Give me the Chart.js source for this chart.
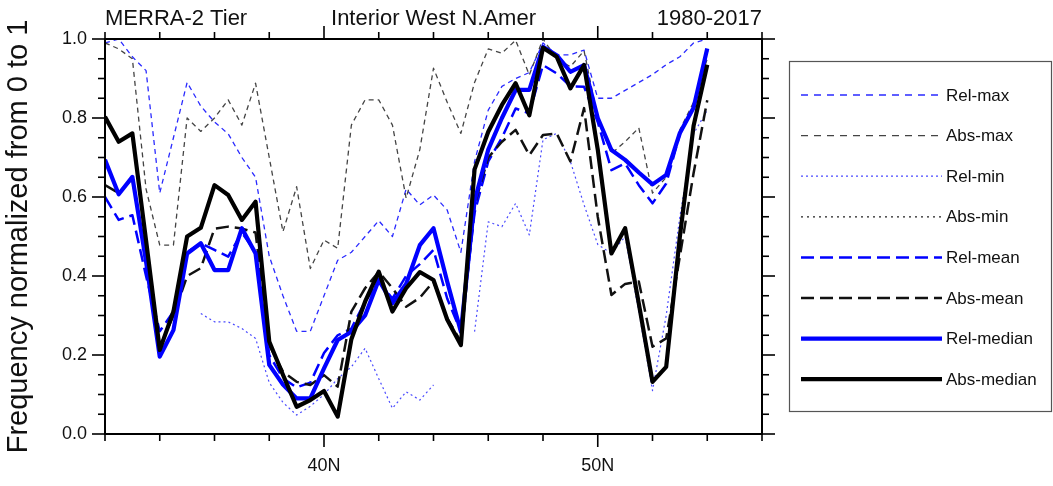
<!DOCTYPE html>
<html>
<head>
<meta charset="utf-8">
<script src="https://cdn.jsdelivr.net/npm/chart.js@4.4.1/dist/chart.umd.min.js"></script>
<style>
html,body{margin:0;padding:0;background:#fff;}
#wrap{width:1053px;height:486px;position:relative;}
</style>
</head>
<body>
<div id="wrap"><canvas id="c"></canvas></div>
<script>
// ---------- DATA ----------
const lats = [32,32.5,33,33.5,34,34.5,35,35.5,36,36.5,37,37.5,38,38.5,39,39.5,40,40.5,41,41.5,42,42.5,43,43.5,44,44.5,45,45.5,46,46.5,47,47.5,48,48.5,49,49.5,50,50.5,51,51.5,52,52.5,53,53.5,54];

const relMax = [0.99,1.0,0.955,0.92,0.61,0.75,0.89,0.83,0.79,0.76,0.70,0.65,0.45,0.35,0.26,0.26,0.35,0.44,0.46,0.50,0.54,0.50,0.62,0.58,0.605,0.567,0.46,0.69,0.82,0.88,0.90,0.915,0.99,0.96,0.96,0.972,0.85,0.85,0.87,0.89,0.91,0.935,0.955,0.99,1.0];
const absMax = [0.99,0.975,0.95,0.62,0.478,0.478,0.80,0.766,0.80,0.846,0.782,0.888,0.70,0.512,0.626,0.419,0.491,0.470,0.782,0.846,0.846,0.782,0.597,0.72,0.926,0.84,0.761,0.89,0.975,0.964,0.997,0.909,1.0,0.95,0.93,0.97,0.80,0.71,0.74,0.775,0.61,0.65,0.77,0.84,0.95];
const relMin = [null,null,null,null,null,null,null,0.305,0.284,0.284,0.267,0.242,0.13,0.08,0.048,0.07,0.10,0.14,0.17,0.217,0.14,0.065,0.107,0.086,0.124,null,null,0.259,0.537,0.525,0.584,0.504,0.745,0.761,0.69,0.58,0.48,0.457,0.50,0.31,0.11,0.30,0.55,0.76,0.82];
const absMin = [null,null,null,null,null,null,null,null,null,null,null,null,null,null,null,null,null,null,null,null,null,null,null,null,null,null,null,null,null,null,null,null,null,null,null,null,null,null,null,null,null,null,null,null,null];
const relMean = [0.60,0.542,0.554,0.40,0.26,0.31,0.46,0.483,0.466,0.449,0.51,0.46,0.20,0.141,0.118,0.13,0.205,0.25,0.267,0.335,0.386,0.343,0.40,0.43,0.466,0.343,0.259,0.56,0.69,0.75,0.824,0.812,0.934,0.913,0.88,0.879,0.79,0.668,0.685,0.63,0.584,0.634,0.76,0.825,0.97];
const absMean = [0.63,0.61,0.647,0.44,0.22,0.30,0.40,0.42,0.52,0.525,0.52,0.51,0.225,0.158,0.132,0.124,0.149,0.12,0.31,0.369,0.411,0.369,0.322,0.345,0.386,0.293,0.234,0.58,0.70,0.74,0.77,0.706,0.757,0.761,0.69,0.825,0.55,0.352,0.38,0.386,0.221,0.242,0.45,0.66,0.845];
const relMedian = [0.694,0.607,0.651,0.436,0.196,0.263,0.457,0.483,0.415,0.415,0.521,0.457,0.175,0.125,0.09,0.09,0.166,0.238,0.259,0.30,0.39,0.331,0.38,0.478,0.521,0.386,0.259,0.59,0.72,0.80,0.871,0.871,0.98,0.959,0.917,0.934,0.80,0.719,0.694,0.662,0.632,0.656,0.762,0.826,0.976];
const absMedian = [0.803,0.74,0.761,0.49,0.213,0.31,0.50,0.522,0.63,0.605,0.542,0.588,0.234,0.15,0.069,0.086,0.109,0.044,0.24,0.335,0.411,0.31,0.369,0.41,0.39,0.29,0.225,0.67,0.765,0.833,0.888,0.807,0.978,0.955,0.875,0.934,0.72,0.457,0.521,0.33,0.132,0.17,0.50,0.78,0.935];

const seriesNames = ['Rel-max','Abs-max','Rel-min','Abs-min','Rel-mean','Abs-mean','Rel-median','Abs-median'];
const seriesValues = [relMax,absMax,relMin,absMin,relMean,absMean,relMedian,absMedian];

const xTickValues = [32,34,36,38,40,42,44,46,48,50,52,54,56];
const xMajorTicks = [40,50];
const xTickLabels = {40:'40N',50:'50N'};
const yTickValues = [0,0.05,0.1,0.15,0.2,0.25,0.3,0.35,0.4,0.45,0.5,0.55,0.6,0.65,0.7,0.75,0.8,0.85,0.9,0.95,1.0];
const yMajorTicks = [0,0.2,0.4,0.6,0.8,1.0];
const yTickLabels = ['0.0','0.2','0.4','0.6','0.8','1.0'];

const titleLeft = 'MERRA-2 Tier';
const titleCenter = 'Interior West N.Amer';
const titleRight = '1980-2017';
const yTitle = 'Frequency normalized from 0 to 1';

// ---------- STYLES ----------
const styles = [
  {color:'#2a2aff', width:1.3, dash:[5,4], legendDash:[7,6]},
  {color:'#444444', width:1.3, dash:[5,4], legendDash:[7,6]},
  {color:'#4a4aff', width:1.2, dash:[2,3], legendDash:[2,3]},
  {color:'#222222', width:1.2, dash:[2,3], legendDash:[2,4]},
  {color:'#0000ff', width:2.5, dash:[13,6], legendDash:[13,6]},
  {color:'#111111', width:2.5, dash:[13,6], legendDash:[13,6]},
  {color:'#0000ff', width:4.2, dash:[], legendDash:[]},
  {color:'#000000', width:4.2, dash:[], legendDash:[]}
];
const FONT = "'Liberation Sans', Arial, Helvetica, sans-serif";
const TEXT = '#111';

Chart.defaults.font.family = FONT;

const datasets = seriesNames.map((name, i) => ({
  label: name,
  data: lats.map((x, j) => ({x: x, y: seriesValues[i][j]})),
  borderColor: styles[i].color,
  backgroundColor: styles[i].color,
  borderWidth: styles[i].width,
  borderDash: styles[i].dash,
  borderJoinStyle: 'round',
  pointRadius: 0,
  pointHoverRadius: 0,
  fill: false,
  tension: 0,
  spanGaps: false,
  order: seriesNames.length - 1 - i
}));

const near = (a, b) => Math.abs(a - b) < 1e-6;

const decor = {
  id: 'decor',
  afterDatasetsDraw(chart) {
    const {ctx, chartArea: a, scales: {x, y}} = chart;
    ctx.save();
    const line = (x1, y1, x2, y2) => { ctx.beginPath(); ctx.moveTo(x1, y1); ctx.lineTo(x2, y2); ctx.stroke(); };
    // frame
    ctx.setLineDash([]);
    ctx.strokeStyle = '#000';
    ctx.lineWidth = 2;
    ctx.strokeRect(a.left, a.top, a.right - a.left, a.bottom - a.top);
    // ticks (outward, all four sides)
    ctx.lineWidth = 1.6;
    xTickValues.forEach(v => {
      const px = x.getPixelForValue(v);
      const L = xMajorTicks.some(m => near(m, v)) ? 13 : 7;
      line(px, a.bottom, px, a.bottom + L);
      line(px, a.top, px, a.top - L);
    });
    yTickValues.forEach(v => {
      const py = y.getPixelForValue(v);
      const L = yMajorTicks.some(m => near(m, v)) ? 13 : 7;
      line(a.left, py, a.left - L, py);
      line(a.right, py, a.right + L, py);
    });
    // top strings
    ctx.fillStyle = TEXT;
    ctx.font = '22px ' + FONT;
    ctx.textBaseline = 'alphabetic';
    ctx.textAlign = 'left';  ctx.fillText(titleLeft, a.left, 25);
    ctx.textAlign = 'center'; ctx.fillText(titleCenter, (a.left + a.right) / 2, 25);
    ctx.textAlign = 'right'; ctx.fillText(titleRight, a.right, 25);
    // legend
    const bx = 789.5, by = 61.5, bw = 262, bh = 350;
    ctx.strokeStyle = '#555';
    ctx.lineWidth = 1.2;
    ctx.strokeRect(bx, by, bw, bh);
    ctx.font = '17px ' + FONT;
    ctx.textAlign = 'left';
    ctx.textBaseline = 'middle';
    seriesNames.forEach((name, i) => {
      const ry = 95 + i * 40.6;
      ctx.save();
      ctx.strokeStyle = styles[i].color;
      ctx.lineWidth = styles[i].width;
      ctx.setLineDash(styles[i].legendDash);
      line(801, ry, 942, ry);
      ctx.restore();
      ctx.fillStyle = TEXT;
      ctx.fillText(name, 946, ry + 1);
    });
    ctx.restore();
  }
};

new Chart(document.getElementById('c'), {
  type: 'line',
  data: { datasets: datasets },
  options: {
    responsive: true,
    maintainAspectRatio: false,
    animation: false,
    events: [],
    layout: { padding: { left: 0, top: 39, right: 291, bottom: 0 } },
    plugins: { legend: { display: false }, tooltip: { enabled: false }, title: { display: false } },
    scales: {
      x: {
        type: 'linear', min: 32, max: 56,
        afterFit(s) { s.height = 52; },
        afterBuildTicks(s) { s.ticks = xTickValues.map(v => ({value: v})); },
        ticks: {
          autoSkip: false, maxRotation: 0, padding: 8, color: TEXT,
          font: { size: 18, family: FONT },
          callback: (v) => xTickLabels[v] || ''
        },
        grid: { display: true, drawOnChartArea: false, drawTicks: true, tickLength: 13, tickColor: 'rgba(0,0,0,0)' },
        border: { display: false }
      },
      y: {
        type: 'linear', min: 0, max: 1,
        afterFit(s) { s.width = 105; },
        afterBuildTicks(s) { s.ticks = yMajorTicks.map(v => ({value: v})); },
        ticks: {
          autoSkip: false, padding: 5, color: TEXT,
          font: { size: 18, family: FONT },
          callback: (v) => { const k = yMajorTicks.findIndex(m => near(m, v)); return k >= 0 ? yTickLabels[k] : ''; }
        },
        grid: { display: true, drawOnChartArea: false, drawTicks: true, tickLength: 13, tickColor: 'rgba(0,0,0,0)' },
        border: { display: false },
        title: { display: true, text: yTitle, color: TEXT, font: { size: 29, family: FONT }, padding: { top: 2, bottom: 0 } }
      }
    }
  },
  plugins: [decor]
});
</script>
</body>
</html>
